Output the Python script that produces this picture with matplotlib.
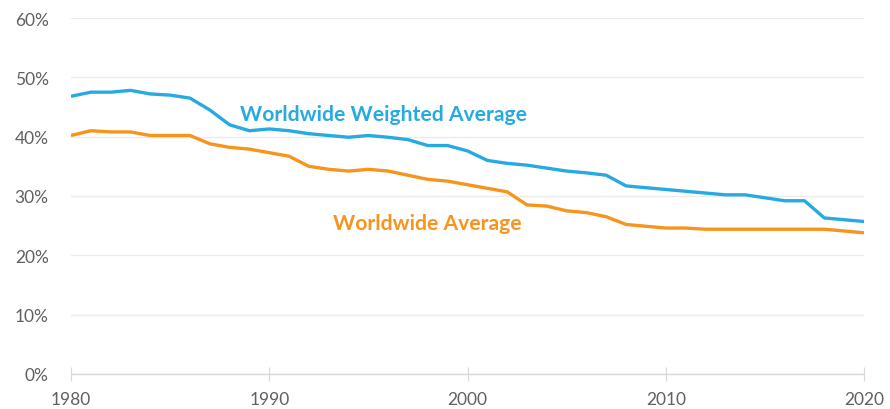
import matplotlib.pyplot as plt
from matplotlib.ticker import FuncFormatter

plt.rcParams['font.family'] = ['Lato', 'DejaVu Sans']

# ----------------------------
# Data
# ----------------------------
years = list(range(1980, 2021))
weighted_avg = [46.8, 47.5, 47.5, 47.8, 47.2, 47.0, 46.5, 44.5, 42.0, 41.0,
                41.3, 41.0, 40.5, 40.2, 39.9, 40.2, 39.9, 39.5, 38.5, 38.5,
                37.6, 36.0, 35.5, 35.2, 34.7, 34.2, 33.9, 33.5, 31.7, 31.4,
                31.1, 30.8, 30.5, 30.2, 30.2, 29.7, 29.2, 29.2, 26.3, 26.0,
                25.7]
simple_avg = [40.2, 41.0, 40.8, 40.8, 40.2, 40.2, 40.2, 38.8, 38.2, 37.9,
              37.3, 36.7, 35.0, 34.5, 34.2, 34.5, 34.2, 33.5, 32.8, 32.5,
              31.9, 31.3, 30.7, 28.5, 28.3, 27.5, 27.2, 26.5, 25.2, 24.9,
              24.6, 24.6, 24.4, 24.4, 24.4, 24.4, 24.4, 24.4, 24.4, 24.1,
              23.8]
xtick_years = [1980, 1990, 2000, 2010, 2020]
ytick_vals = [0, 10, 20, 30, 40, 50, 60]

BLUE = "#27aae1"
ORANGE = "#f7941d"
GREY = "#606060"

# ----------------------------
# Plot
# ----------------------------
fig = plt.figure(figsize=(8.9, 4.1), dpi=100)
ax = fig.add_axes([71 / 890, 35 / 410, 793 / 890, 356 / 410])

ax.plot(years, weighted_avg, color=BLUE, linewidth=2.4, solid_capstyle="butt")
ax.plot(years, simple_avg, color=ORANGE, linewidth=2.4, solid_capstyle="butt")

ax.text(1988.5, 43.8, "Worldwide Weighted Average", color=BLUE,
        fontsize=15.2, fontweight="bold", va="center", ha="left")
ax.text(1993.2, 25.5, "Worldwide Average", color=ORANGE,
        fontsize=15.2, fontweight="bold", va="center", ha="left")

ax.set_xlim(1980, 2020)
ax.set_ylim(0, 60)
ax.set_xticks(xtick_years)
ax.set_yticks(ytick_vals)
ax.yaxis.set_major_formatter(FuncFormatter(lambda v, _: f"{v:.0f}%"))

ax.grid(axis="y", color="#ebebeb", linewidth=1)
ax.set_axisbelow(True)
for side in ["top", "right", "left"]:
    ax.spines[side].set_visible(False)
ax.spines["bottom"].set_color("#d9d9d9")
ax.spines["bottom"].set_linewidth(1)

ax.tick_params(axis="y", length=0, pad=16, labelsize=12.5, labelcolor=GREY)
ax.tick_params(axis="x", direction="inout", length=10, color="#d9d9d9",
               pad=7, labelsize=12.5, labelcolor=GREY)

fig.savefig("out.png", dpi=100)
